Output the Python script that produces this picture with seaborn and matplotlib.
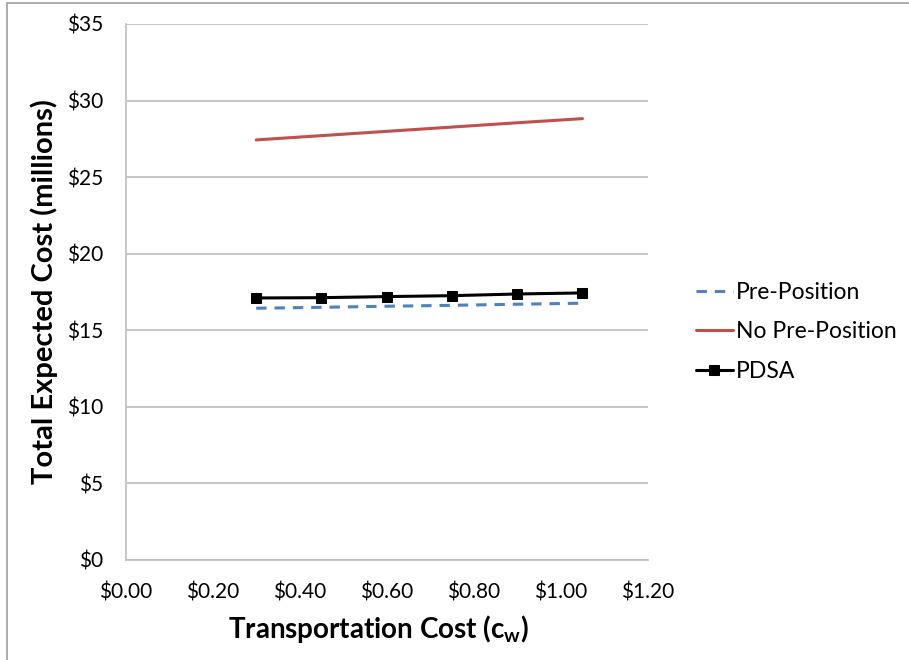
import matplotlib
matplotlib.use("Agg")
import matplotlib.pyplot as plt
from matplotlib.lines import Line2D
import pandas as pd
import seaborn as sns

# Transportation cost per unit (x) and total expected cost in millions (y)
transport_cost = [0.30, 0.45, 0.60, 0.75, 0.90, 1.05]
pre_position = [16.44, 16.50, 16.57, 16.63, 16.70, 16.77]
no_pre_position = [27.43, 27.71, 27.99, 28.27, 28.55, 28.82]
pdsa = [17.11, 17.13, 17.20, 17.26, 17.37, 17.44]

series_names = ["Pre-Position", "No Pre-Position", "PDSA"]
x_ticks = [0.0, 0.2, 0.4, 0.6, 0.8, 1.0, 1.2]
y_ticks = [0, 5, 10, 15, 20, 25, 30, 35]

df = pd.DataFrame({
    "cost": transport_cost * 3,
    "total": pre_position + no_pre_position + pdsa,
    "series": [s for s in series_names for _ in transport_cost],
})

sns.set_theme(style="white")
plt.rcParams["font.family"] = ["Lato", "DejaVu Sans"]
plt.rcParams["mathtext.fontset"] = "custom"
plt.rcParams["mathtext.rm"] = "Lato"
plt.rcParams["mathtext.bf"] = "Lato:bold"

W, H = 909, 660
fig = plt.figure(figsize=(W / 100, H / 100), dpi=100)
L, R, T, B = 125.7, 647.7, 24, 560
ax = fig.add_axes([L / W, 1 - B / H, (R - L) / W, (B - T) / H])

palette = {"Pre-Position": "#4F81BD", "No Pre-Position": "#C0504D", "PDSA": "#000000"}
styles = {
    "Pre-Position": dict(lw=2.2, dashes=(3.4, 2.6), marker=None),
    "No Pre-Position": dict(lw=2.2, dashes=None, marker=None),
    "PDSA": dict(lw=2.2, dashes=None, marker="s"),
}

handles = []
for name in series_names:
    sub = df[df["series"] == name]
    st = styles[name]
    kw = dict(x="cost", y="total", data=sub, ax=ax, color=palette[name],
              linewidth=st["lw"], label=name, legend=False)
    if st["marker"]:
        kw.update(marker="s", markersize=7, markeredgecolor="black",
                  markerfacecolor="black")
    sns.lineplot(**kw)
    line = ax.lines[-1]
    if st["dashes"]:
        line.set_dashes(st["dashes"])
        line.set_dash_capstyle("butt")
    handles.append(line)

ax.set_xlim(0, 1.2)
ax.set_ylim(0, 35)
ax.set_xticks(x_ticks)
ax.set_yticks(y_ticks)
ax.set_xticklabels([f"${v:.2f}" for v in x_ticks], fontsize=15)
ax.set_yticklabels([f"${v}" for v in y_ticks], fontsize=15)

grid_col = "#BEBEBE"
ax.yaxis.grid(True, color=grid_col, linewidth=1.2)
ax.xaxis.grid(False)
for side in ["top", "right"]:
    ax.spines[side].set_visible(False)
for side in ["left", "bottom"]:
    ax.spines[side].set_color(grid_col)
    ax.spines[side].set_linewidth(1.2)
ax.tick_params(axis="both", which="both", direction="out", color=grid_col,
               width=1.2, labelcolor="black")
ax.tick_params(axis="y", length=5, pad=11)
ax.tick_params(axis="x", length=4, pad=12)
ax.set_axisbelow(True)

ax.set_xlabel(r"Transportation Cost (c$_\mathbf{w}$)", fontsize=20,
              fontweight="bold", color="black")
ax.set_ylabel("Total Expected Cost (millions)", fontsize=21,
              fontweight="bold", color="black")
ax.xaxis.set_label_coords((378 - L) / (R - L), (B - 613) / (B - T))
ax.yaxis.set_label_coords((58 - L) / (R - L), 0.5)

leg = fig.legend(handles=handles, labels=series_names,
                 loc="center left", bbox_to_anchor=(696 / W, 1 - 332 / H),
                 frameon=False, fontsize=16.5, handlelength=1.6,
                 handletextpad=0.15, labelspacing=0.8, borderpad=0,
                 borderaxespad=0)
for t in leg.get_texts():
    t.set_color("black")

# Thin frame lines along the left and top edges of the figure
fig.add_artist(Line2D([7 / W, 7 / W], [0, 1 - 3 / H], transform=fig.transFigure,
                      color="#A0A0A0", linewidth=1.2))
fig.add_artist(Line2D([7 / W, 1], [1 - 3 / H, 1 - 3 / H], transform=fig.transFigure,
                      color="#A0A0A0", linewidth=1.2))

fig.savefig("out.png", dpi=100, facecolor="white")
